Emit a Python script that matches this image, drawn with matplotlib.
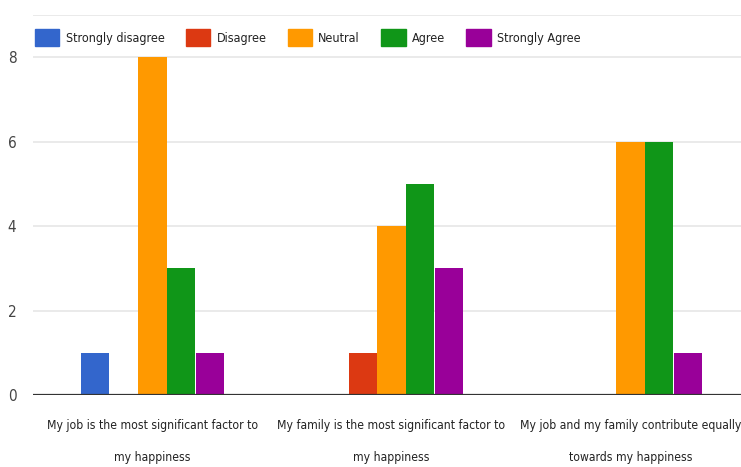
import numpy as np
import matplotlib
matplotlib.use("Agg")
import matplotlib.pyplot as plt
from matplotlib.patches import Patch

plt.rcParams['font.family'] = ['DejaVu Sans']
plt.rcParams['font.stretch'] = 'condensed'

statements = [
    "My job is the most significant factor to\nmy happiness",
    "My family is the most significant factor to\nmy happiness",
    "My job and my family contribute equally\ntowards my happiness",
]
answers = ["Strongly disagree", "Disagree", "Neutral", "Agree", "Strongly Agree"]
colors = ["#3366cc", "#dc3912", "#ff9900", "#109618", "#990099"]

strongly_disagree = [1, 0, 0]
disagree = [0, 1, 0]
neutral = [8, 4, 6]
agree = [3, 5, 6]
strongly_agree = [1, 3, 1]
counts = [strongly_disagree, disagree, neutral, agree, strongly_agree]

fig = plt.figure(figsize=(7.41, 4.67), dpi=100)
ax = fig.add_axes([33 / 741, 72 / 467, 708 / 741, 380 / 467])

x = np.arange(len(statements))
w = 0.121
for i, (name, col, vals) in enumerate(zip(answers, colors, counts)):
    ax.bar(x + (i - 2) * w, vals, width=w * 0.97, color=col, zorder=3)
    # empty answers show up as a faint sliver on the baseline
    zero = [v == 0 for v in vals]
    ax.bar((x + (i - 2) * w)[zero], [0.03] * sum(zero), width=w * 0.97,
           color=col, alpha=0.12, zorder=3)

ax.set_xlim(-0.5, 2.5 - 9 / 239)
ax.set_ylim(0, 9)
ax.set_yticks([0, 2, 4, 6, 8, 9])
ax.set_yticklabels(["0", "2", "4", "6", "8", ""])
ax.grid(axis="y", color="#e6e6e6", linewidth=1.2, zorder=0)
ax.axhline(0, color="#333333", linewidth=1.6, zorder=4)
for s in ax.spines.values():
    s.set_visible(False)
ax.tick_params(axis="y", length=0, pad=12, labelsize=11, labelcolor="#444444")
ax.tick_params(axis="x", length=0, pad=17, labelsize=8.7, labelcolor="#222222")
ax.set_xticks(x)
ax.set_xticklabels(statements, linespacing=2.9)

handles = [Patch(facecolor=c, edgecolor=c) for c in colors]
fig.legend(handles, answers, loc="upper left", bbox_to_anchor=(35 / 741, 1 - 29 / 467),
           ncol=5, frameon=False, fontsize=9, handlelength=1.95, handleheight=1.75,
           handletextpad=0.5, columnspacing=1.7, borderaxespad=0, borderpad=0,
           labelcolor="#222222")

fig.savefig("out.png", dpi=100)
